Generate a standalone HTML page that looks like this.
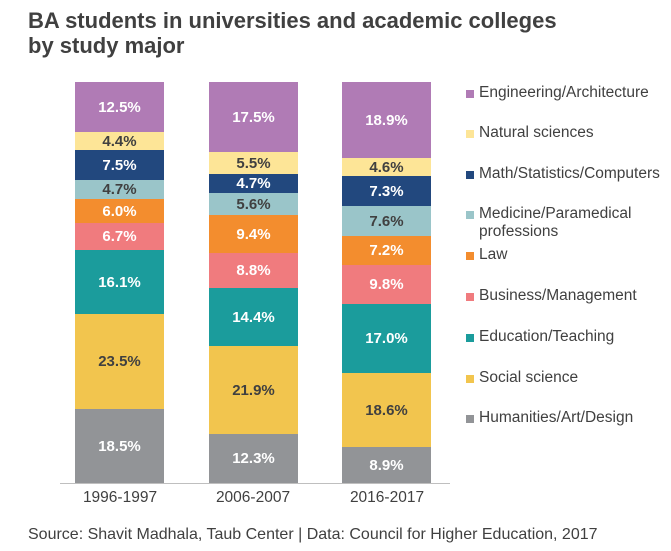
<!DOCTYPE html>
<html><head><meta charset="utf-8"><style>
body{margin:0;width:671px;height:551px;background:#fff;position:relative;font-family:"Liberation Sans",Arial,sans-serif;overflow:hidden}
.t{position:absolute;left:28px;font-weight:bold;font-size:22px;color:#404040;line-height:25px;white-space:nowrap}
.seg{position:absolute;display:flex;align-items:center;justify-content:center;font-weight:bold;font-size:15px}
.leg{position:absolute;left:466px;font-size:15.5px;color:#404040;line-height:18px}
.leg i{position:absolute;left:0;top:6px;width:8px;height:8px}
.leg span{position:absolute;left:13px;white-space:nowrap}
.xl{position:absolute;top:489px;width:120px;text-align:center;font-size:15.5px;color:#404040}
</style></head><body>
<div class="t" style="top:8px">BA students in universities and academic colleges</div>
<div class="t" style="top:33px">by study major</div>
<div id="c"></div>
<div style="position:absolute;left:60px;top:483px;width:390px;height:1px;background:#bfbfbf"></div>
<div class="xl" style="left:60px">1996-1997</div>
<div class="xl" style="left:193px">2006-2007</div>
<div class="xl" style="left:327px">2016-2017</div>
<div style="position:absolute;left:28px;top:526px;font-size:16px;color:#404040;white-space:nowrap">Source: Shavit Madhala, Taub Center | Data: Council for Higher Education, 2017</div>
<script>
var cols=["#929497","#F2C54E","#1B9C9C","#F07B7E","#F38D2E","#9AC5C9","#22487E","#FDE597","#B07BB5"];
var dark=[0,1,0,0,0,1,0,1,0];
var names=["Humanities/Art/Design","Social science","Education/Teaching","Business/Management","Law","Medicine/Paramedical<br>professions","Math/Statistics/Computers","Natural sciences","Engineering/Architecture"];
var legY=[417,377,336,295,254,213,173,132,92];
var data=[[18.5,23.5,16.1,6.7,6.0,4.7,7.5,4.4,12.5],[12.3,21.9,14.4,8.8,9.4,5.6,4.7,5.5,17.5],[8.9,18.6,17.0,9.8,7.2,7.6,7.3,4.6,18.9]];
var xs=[75,209,342],h="";
data.forEach(function(d,b){var s=d.reduce(function(a,c){return a+c},0),k=401/s,y=483;
d.forEach(function(v,i){var hh=v*k,top=y-hh;
h+='<div class="seg" style="left:'+xs[b]+'px;width:89px;top:'+Math.round(top)+'px;height:'+(Math.round(y)-Math.round(top))+'px;background:'+cols[i]+';color:'+(dark[i]?'#404040':'#fff')+'">'+v.toFixed(1)+'%</div>';y=top;});});
names.forEach(function(n,i){h+='<div class="leg" style="top:'+(legY[i]-8)+'px"><i style="background:'+cols[i]+'"></i><span>'+n+'</span></div>';});
document.getElementById("c").innerHTML=h;
</script>
</body></html>
